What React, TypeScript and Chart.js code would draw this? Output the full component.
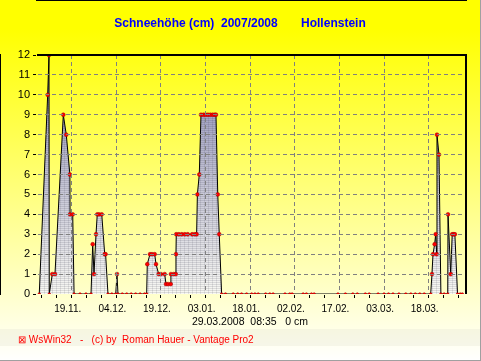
import React, { useEffect, useRef } from 'react';
import { Chart, registerables } from 'chart.js';

Chart.register(...registerables);

const TITLE = 'Schneehöhe (cm)  2007/2008       Hollenstein';
const SUBTITLE = '29.03.2008  08:35   0 cm';
const FOOTER = '⊠ WsWin32   -   (c) by  Roman Hauer - Vantage Pro2';

// x = days since 04.11.2007, y = snow depth in cm
const DAYS = [
  4.1, 6.93, 7.37, 7.47, 8.48, 9.39, 12.18, 13.18, 14.4, 14.45, 15.35, 15.8,
  17.8, 19.8, 21.5, 22.06, 22.5, 23.17, 23.6, 24.2, 25.1, 26.1, 26.4, 27.2,
  28.5, 29.8, 30.23, 30.56, 32, 33.5, 35, 36.5, 38, 39.5, 40.2,
  40.41, 41.32, 42.0, 42.9, 43.34, 44.24, 45.0, 46.26, 46.7, 47.4, 48.3,
  48.35, 49.3, 50.0, 50.05, 50.15, 51.0, 52.0, 53.0, 54.0, 55.5, 56.4, 57.0,
  57.25, 57.89, 58.46, 59.3, 60.0, 60.8, 61.6, 62.4, 63.1, 63.5, 64.1, 64.6, 65.4,
  66.7, 69.3, 70.8, 72.1, 73.8, 75.5, 76.6, 77.7, 80.2, 81.6, 82.7, 86.7, 88.3,
  89.1, 92.8, 93.9, 95.6, 96.5, 104.5, 107, 109.5, 111, 113.7, 115, 118, 120,
  121.5, 123, 125, 127.3, 129, 130.5, 132, 133.5, 135.67,
  136.1, 136.45, 137.0, 137.35, 137.69, 137.79, 138.46, 139.1, 140.2, 141.4,
  141.5, 142.4, 142.9, 143.4, 143.8, 144.7, 145.6, 146.3,
];
const SNOW = [
  0, 10, 12, 0, 1, 1, 9, 8, 6, 4, 4, 0,
  0, 0, 0, 2.5, 1, 3, 4, 4, 4, 2, 2, 0,
  0, 0, 1, 0, 0, 0, 0, 0, 0, 0, 0,
  1.5, 2, 2, 2, 1.5, 1, 1, 1, 0.5, 0.5, 0.5,
  1, 1, 1, 2, 3, 3, 3, 3, 3, 3, 3, 3,
  5, 6, 9, 9, 9, 9, 9, 9, 9, 9, 5, 3, 0,
  0, 0, 0, 0, 0, 0, 0, 0, 0, 0, 0, 0, 0,
  0, 0, 0, 0, 0, 0, 0, 0, 0, 0, 0, 0, 0,
  0, 0, 0, 0, 0, 0, 0, 0, 0,
  1, 2, 2.5, 3, 2, 8, 7, 0, 0, 0,
  4, 1, 3, 3, 3, 0, 0, 0,
];

const TICK_DAYS = [15, 30, 45, 60, 75, 90, 105, 120, 135];
const TICK_LABELS = ['19.11.', '04.12.', '19.12.', '03.01.', '18.01.', '02.02.', '17.02.', '03.03.', '18.03.'];

const X_MIN = 3.34;
const X_MAX = 147.54;
const Y_MIN = 0;
const Y_MAX = 12;

const FONT = '"Liberation Sans", Arial, sans-serif';

let cachedKey = '';
let cachedPattern: CanvasPattern | string = 'rgb(180,180,200)';

function makeFill(chart: any) {
  const a = chart.chartArea;
  if (!a) return 'rgb(180,180,200)';
  const key = `${a.top}-${a.bottom}-${chart.height}`;
  if (key === cachedKey) return cachedPattern;
  const c = document.createElement('canvas');
  c.width = 4;
  c.height = chart.height;
  const p = c.getContext('2d')!;
  const g = p.createLinearGradient(0, a.top, 0, a.bottom);
  g.addColorStop(0, '#8888b4');
  g.addColorStop(0.5, '#c0c0d2');
  g.addColorStop(1, '#f8f8f3');
  p.fillStyle = g;
  p.fillRect(0, 0, 4, c.height);
  p.fillStyle = 'rgba(40,40,60,0.13)';
  for (let y = 0; y < c.height; y += 2) p.fillRect(0, y, 4, 1);
  p.fillStyle = 'rgba(40,40,60,0.1)';
  p.fillRect(0, 0, 1, c.height);
  const pat = chart.ctx.createPattern(c, 'repeat');
  cachedKey = key;
  cachedPattern = pat || 'rgb(180,180,200)';
  return cachedPattern;
}

const decor = {
  id: 'decor',
  beforeDraw(chart: any) {
    const { ctx, width, height } = chart;
    ctx.save();
    const g = ctx.createLinearGradient(0, 0, 0, height);
    g.addColorStop(0, '#ffff00');
    g.addColorStop(0.08, '#ffff00');
    g.addColorStop(1, '#ffffff');
    ctx.fillStyle = g;
    ctx.fillRect(0, 0, width, height);
    ctx.fillStyle = 'rgba(225,225,210,0.3)';
    ctx.fillRect(0, 329, width, 17);
    ctx.fillStyle = '#a0a0a0';
    ctx.fillRect(width - 1, 0, 1, height);
    ctx.fillRect(0, height - 1, width, 1);
    ctx.restore();
  },
  afterDraw(chart: any) {
    const { ctx, chartArea: a } = chart;
    ctx.save();
    ctx.strokeStyle = '#000';
    ctx.lineWidth = 2;
    ctx.beginPath();
    ctx.moveTo(a.left, a.top);
    ctx.lineTo(a.right, a.top);
    ctx.lineTo(a.right, a.bottom);
    ctx.stroke();

    ctx.textBaseline = 'middle';
    ctx.textAlign = 'center';
    ctx.font = `bold 12px ${FONT}`;
    ctx.fillStyle = '#0000ff';
    ctx.fillText(TITLE, 240, 24);

    ctx.font = `10.5px ${FONT}`;
    ctx.fillStyle = '#000';
    ctx.fillText(SUBTITLE, (a.left + a.right) / 2 - 1.5, a.bottom + 28.5);

    ctx.textAlign = 'left';
    ctx.font = `10px ${FONT}`;
    ctx.fillStyle = '#ff0000';
    ctx.fillText(FOOTER, 18, 340);
    ctx.restore();
  },
};

export default function App() {
  const ref = useRef<HTMLCanvasElement>(null);

  useEffect(() => {
    const canvas = ref.current;
    if (!canvas) return;
    const chart = new Chart(canvas, {
      type: 'line',
      data: {
        datasets: [
          {
            data: DAYS.map((d, i) => ({ x: d, y: SNOW[i] })),
            borderColor: '#000',
            borderWidth: 1,
            tension: 0,
            fill: 'origin',
            backgroundColor: (c: any) => makeFill(c.chart),
            pointRadius: (c: any) => (SNOW[c.dataIndex] === 0 ? 1.3 : 1.9),
            pointBackgroundColor: '#ff0000',
            pointBorderColor: '#a00000',
            pointBorderWidth: 0.5,
          },
        ],
      },
      options: {
        responsive: false,
        animation: false,
        events: [],
        layout: { padding: { left: 0, right: 15, top: 55, bottom: 0 } },
        plugins: {
          legend: { display: false },
          title: { display: false },
          tooltip: { enabled: false },
        },
        scales: {
          x: {
            type: 'linear',
            min: X_MIN,
            max: X_MAX,
            afterFit: (s: any) => {
              s.height = 67;
            },
            ticks: {
              stepSize: 5,
              includeBounds: false,
              autoSkip: false,
              maxRotation: 0,
              minRotation: 0,
              labelOffset: -4,
              padding: 5,
              color: '#000',
              font: { family: FONT, size: 10 },
              callback: (v: any) => {
                const i = TICK_DAYS.indexOf(Number(v));
                return i >= 0 ? TICK_LABELS[i] : '';
              },
            },
            grid: {
              color: (c: any) => (c.tick && TICK_DAYS.includes(c.tick.value) ? '#808080' : 'rgba(0,0,0,0)'),
              tickColor: '#000',
              tickLength: 4,
              lineWidth: 1,
              z: 1,
            },
            border: { color: '#000', width: 2, dash: [4, 3] },
          },
          y: {
            min: Y_MIN,
            max: Y_MAX,
            afterFit: (s: any) => {
              s.width = 37;
            },
            ticks: {
              stepSize: 1,
              padding: 3,
              color: '#000',
              font: { family: FONT, size: 11 },
            },
            grid: {
              color: (c: any) =>
                c.tick && (c.tick.value === Y_MIN || c.tick.value === Y_MAX) ? 'rgba(0,0,0,0)' : '#808080',
              tickColor: '#000',
              tickLength: 4,
              lineWidth: 1,
              z: 1,
            },
            border: { color: '#000', width: 2, dash: [4, 3] },
          },
        },
      },
      plugins: [decor],
    });
    return () => chart.destroy();
  }, []);

  return (
    <div style={{ position: 'absolute', left: 0, top: 0, width: 481, height: 361 }}>
      <canvas ref={ref} width={481} height={361} style={{ display: 'block' }} />
    </div>
  );
}
